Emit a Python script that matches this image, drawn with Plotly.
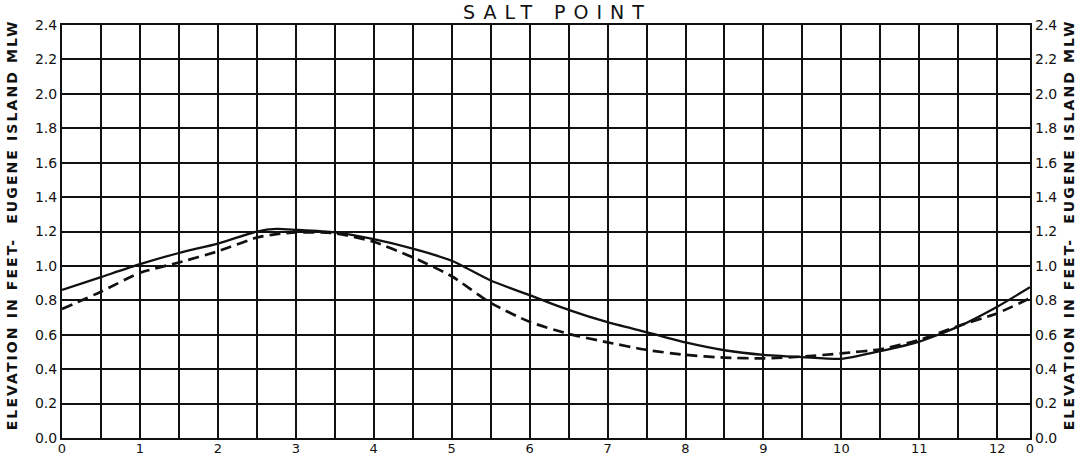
import plotly.graph_objects as go

# Hours after high water (lunar half-cycle ends at 12.42 h)
hours = [0, 0.5, 1, 1.5, 2, 2.5, 2.75, 3, 3.5, 4, 4.5, 5, 5.5, 6, 6.5, 7,
         7.5, 8, 8.5, 9, 9.5, 10, 10.5, 11, 11.5, 12, 12.42]

solid_elev = [0.86, 0.935, 1.01, 1.075, 1.13, 1.20, 1.215, 1.21, 1.195, 1.155,
              1.10, 1.03, 0.915, 0.83, 0.745, 0.673, 0.615, 0.555, 0.51, 0.483,
              0.47, 0.46, 0.505, 0.56, 0.647, 0.763, 0.876]

dashed_elev = [0.75, 0.85, 0.96, 1.02, 1.085, 1.165, 1.185, 1.195, 1.19, 1.14,
               1.05, 0.94, 0.785, 0.675, 0.605, 0.556, 0.512, 0.483, 0.467, 0.463,
               0.473, 0.492, 0.516, 0.57, 0.651, 0.725, 0.812]

x_tickvals = [0, 1, 2, 3, 4, 5, 6, 7, 8, 9, 10, 11, 12, 12.42]
x_ticktext = ["0", "1", "2", "3", "4", "5", "6", "7", "8", "9", "10", "11", "12", "0"]
y_tickvals = [0.0, 0.2, 0.4, 0.6, 0.8, 1.0, 1.2, 1.4, 1.6, 1.8, 2.0, 2.2, 2.4]
y_ticktext = ["0.0", "0.2", "0.4", "0.6", "0.8", "1.0", "1.2", "1.4", "1.6",
              "1.8", "2.0", "2.2", "2.4"]

title_text = "SALT POINT"
axis_title = "ELEVATION IN FEET-  EUGENE ISLAND MLW"

FONT = "DejaVu Sans"
INK = "#111111"

W, H = 1080, 457
ML, MR, MT, MB = 62, 50, 25, 19

fig = go.Figure()
fig.add_trace(go.Scatter(x=hours, y=solid_elev, mode="lines",
                         line=dict(color=INK, width=2.3, shape="spline", smoothing=0.6),
                         showlegend=False, hoverinfo="skip"))
fig.add_trace(go.Scatter(x=hours, y=dashed_elev, mode="lines",
                         line=dict(color=INK, width=2.7, dash="11px,6px",
                                   shape="spline", smoothing=0.6),
                         showlegend=False, hoverinfo="skip"))
# helper trace so the right-hand axis is drawn
fig.add_trace(go.Scatter(x=[hours[0], hours[-1]], y=[0, 0], yaxis="y2", mode="lines",
                         opacity=0, showlegend=False, hoverinfo="skip"))

plot_w = W - ML - MR

fig.update_layout(
    width=W, height=H,
    margin=dict(l=ML, r=MR, t=MT, b=MB, autoexpand=False),
    paper_bgcolor="white", plot_bgcolor="white",
    font=dict(family=FONT, color=INK),
    xaxis=dict(range=[0, 12.42], tickvals=x_tickvals, ticktext=x_ticktext,
               showgrid=True, gridcolor=INK, gridwidth=1.5,
               minor=dict(dtick=0.5, tick0=0, showgrid=True, gridcolor=INK, gridwidth=1.5),
               showline=True, linecolor=INK, linewidth=2, mirror=True,
               ticks="", tickfont=dict(size=13, family=FONT, color=INK),
               ticklabelstandoff=-3,
               zeroline=False, fixedrange=True, automargin=False),
    yaxis=dict(range=[0, 2.4], tickvals=y_tickvals, ticktext=y_ticktext,
               showgrid=True, gridcolor=INK, gridwidth=1.5,
               showline=True, linecolor=INK, linewidth=2, mirror=True,
               ticks="", tickfont=dict(size=14, family=FONT, color=INK),
               zeroline=False, fixedrange=True, automargin=False),
    yaxis2=dict(range=[0, 2.4], tickvals=y_tickvals, ticktext=y_ticktext,
                overlaying="y", side="right", showgrid=False, zeroline=False,
                ticks="", tickfont=dict(size=14, family=FONT, color=INK),
                ticklabelstandoff=4,
                fixedrange=True, automargin=False),
    annotations=[
        dict(text='<span style="letter-spacing:8px">' + title_text + '</span>',
             x=0.512, y=1.0, xref="paper", yref="paper",
             xanchor="center", yanchor="bottom", yshift=0, showarrow=False,
             font=dict(size=19, family=FONT, color=INK)),
        dict(text='<span style="letter-spacing:2.1px"><b>' + axis_title + '</b></span>',
             x=-(ML - 12) / plot_w, y=0.515, xref="paper", yref="paper",
             xanchor="center", yanchor="middle", textangle=-90, showarrow=False,
             font=dict(size=14, family=FONT, color=INK)),
        dict(text='<span style="letter-spacing:2.1px"><b>' + axis_title + '</b></span>',
             x=1 + (1069 - (W - MR)) / plot_w, y=0.515, xref="paper", yref="paper",
             xanchor="center", yanchor="middle", textangle=-90, showarrow=False,
             font=dict(size=14, family=FONT, color=INK)),
    ],
)

# remove the browser's default 8px page margin so the figure fills the window
fig.write_html("out.html", config={"displayModeBar": False},
               post_script="document.body.style.margin='0';")
